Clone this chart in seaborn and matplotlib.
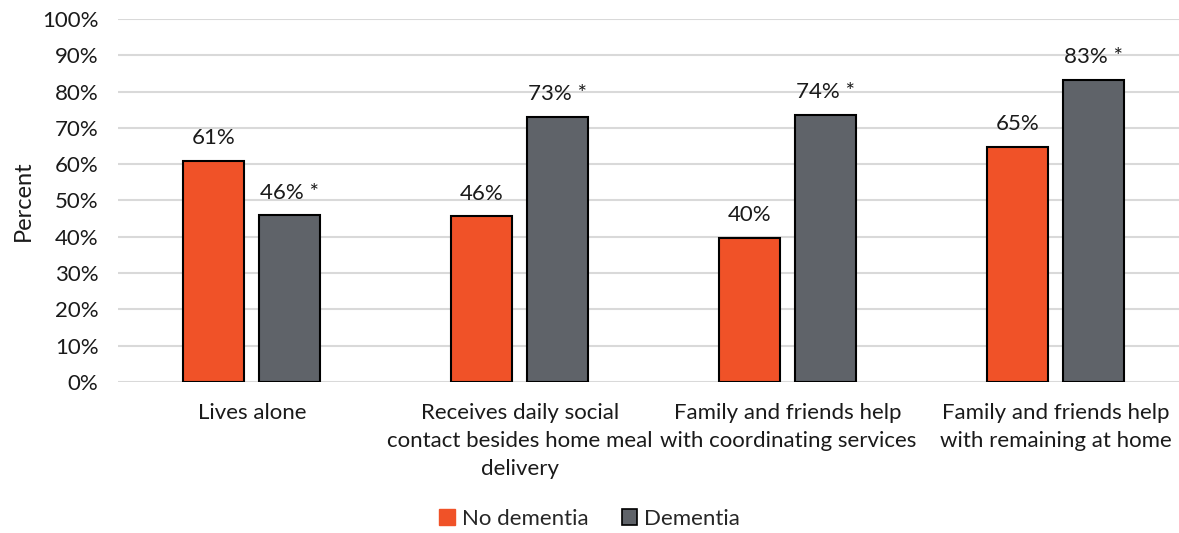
import matplotlib
matplotlib.use("Agg")
import matplotlib.pyplot as plt
import seaborn as sns
import pandas as pd
from matplotlib.patches import Patch

categories = ["Lives alone",
              "Receives daily social\ncontact besides home meal\ndelivery",
              "Family and friends help\nwith coordinating services",
              "Family and friends help\nwith remaining at home"]
no_dementia = [60.9, 45.6, 39.8, 64.8]
dementia = [45.9, 73.0, 73.6, 83.2]
labels_no = ["61%", "46%", "40%", "65%"]
labels_de = ["46% *", "73% *", "74% *", "83% *"]
groups = ["No dementia", "Dementia"]
colors = ["#F05228", "#5F6369"]

sns.set_theme(style="white")
plt.rcParams['font.family'] = ['Lato', 'DejaVu Sans']

df = pd.DataFrame({
    "cat": categories * 2,
    "val": no_dementia + dementia,
    "grp": [groups[0]] * 4 + [groups[1]] * 4,
})

FS = 16
TXT = "#1a1a1a"

fig = plt.figure(figsize=(11.79, 5.33), dpi=100)
ax = fig.add_axes([0.100, 0.2833, 0.900, 0.6811])
sns.barplot(data=df, x="cat", y="val", hue="grp", order=categories,
            hue_order=groups, palette=colors, width=0.567, gap=0.197,
            edgecolor="black", linewidth=1.5, saturation=1, ax=ax,
            legend=False, zorder=3)

ax.set_ylim(0, 100)
ax.set_xlim(-0.5, 3.459)
ax.set_yticks(range(0, 101, 10))
ax.set_yticklabels([f"{v}%" for v in range(0, 101, 10)], fontsize=FS, color=TXT)
ax.yaxis.grid(True, color="#d9d9d9", linewidth=1.5, zorder=0)
ax.set_axisbelow(True)
for s in ax.spines.values():
    s.set_visible(False)
ax.tick_params(axis="y", length=0, pad=14)
ax.set_xlabel("")
ax.set_ylabel("Percent", fontsize=17, color=TXT, labelpad=6)
ax.set_xticks(range(len(categories)))
ax.set_xticklabels(categories, fontsize=FS, color=TXT, linespacing=1.5)
ax.tick_params(axis="x", length=0, pad=15)

for cont, labs in zip(ax.containers, [labels_no, labels_de]):
    ax.bar_label(cont, labels=labs, padding=9, fontsize=FS, color=TXT)

handles = [Patch(facecolor=colors[0], edgecolor=colors[0]),
           Patch(facecolor=colors[1], edgecolor="black", linewidth=1.2)]
fig.legend(handles, groups, loc="lower center", bbox_to_anchor=(0.5, -0.03),
           ncol=2, frameon=False, fontsize=FS, handlelength=0.7,
           handleheight=0.7, handletextpad=0.3, columnspacing=1.5)

fig.savefig("out.png", dpi=100)
